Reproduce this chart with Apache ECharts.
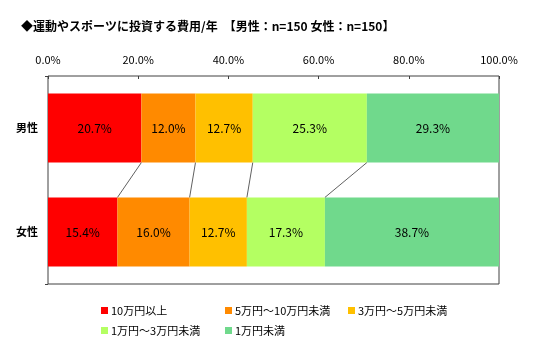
<!DOCTYPE html>
<html>
<head>
<meta charset="utf-8">
<script src="https://cdn.jsdelivr.net/npm/echarts@6/dist/echarts.min.js"></script>
<style>
  html, body { margin: 0; padding: 0; background: #fff; }
  #chart { width: 544px; height: 352px; }
</style>
</head>
<body>
<div id="chart"></div>
<script>
const categories = ['男性', '女性']
const seriesNames = ['10万円以上', '5万円～10万円未満', '3万円～5万円未満', '1万円～3万円未満', '1万円未満']
const male = [20.7, 12.0, 12.7, 25.3, 29.3]
const female = [15.4, 16.0, 12.7, 17.3, 38.7]
const xTicks = ['0.0%', '20.0%', '40.0%', '60.0%', '80.0%', '100.0%']
const colors = ['#ff0000', '#ff8a00', '#ffc000', '#b4ff62', '#70d98c']

const font = '"Noto Sans CJK JP", "Liberation Sans", sans-serif'
const gapRatio = 0.335

// cumulative boundaries between segments (for connector lines)
const cum = (arr) => {
  let s = 0
  return arr.slice(0, -1).map((v) => +(s += v).toFixed(1))
}
const maleCum = cum(male)
const femaleCum = cum(female)
const connectors = maleCum.map((m, i) => [m, femaleCum[i]])

const barSeries = seriesNames.map((name, i) => ({
  name,
  type: 'bar',
  stack: 'total',
  barCategoryGap: (gapRatio * 100) + '%',
  itemStyle: { color: colors[i] },
  label: {
    show: true,
    position: 'inside',
    color: '#000',
    fontSize: 12,
    fontFamily: font,
    formatter: (p) => p.value.toFixed(1) + '%',
  },
  data: [male[i], female[i]],
}))

const connectorSeries = {
  type: 'custom',
  silent: true,
  z: 5,
  renderItem: (params, api) => {
    const band = api.size([0, 1])[1]
    const half = band * (1 - gapRatio) / 2
    const p1 = api.coord([api.value(0), 0])
    const p2 = api.coord([api.value(1), 1])
    return {
      type: 'line',
      shape: { x1: p1[0], y1: p1[1] + half, x2: p2[0], y2: p2[1] - half },
      style: { stroke: '#606060', lineWidth: 1 },
    }
  },
  data: connectors,
}

// legend laid out as fixed columns
const legendPos = [[96, 300], [220, 300], [343, 300], [96, 320], [220, 320]]
const legends = seriesNames.map((name, i) => ({
  data: [name],
  left: legendPos[i][0],
  top: legendPos[i][1],
  icon: 'rect',
  itemWidth: 7,
  itemHeight: 7,
  itemGap: 3,
  selectedMode: false,
  textStyle: { fontSize: 11, color: '#000', fontFamily: font, padding: [0, 0, 0, -2] },
}))

const chart = echarts.init(document.getElementById('chart'))
chart.setOption({
  animation: false,
  title: {
    text: '◆運動やスポーツに投資する費用/年　【男性：n=150 女性：n=150】',
    left: 16,
    top: 15,
    textStyle: { fontSize: 12, fontWeight: 'bold', color: '#000', fontFamily: font },
  },
  legend: legends,
  grid: {
    left: 48,
    right: 45,
    top: 76,
    bottom: 68,
    show: true,
    borderColor: '#404040',
    borderWidth: 1,
  },
  xAxis: {
    type: 'value',
    position: 'top',
    min: 0,
    max: 100,
    interval: 20,
    axisLine: { show: false },
    axisTick: { show: true, inside: true, length: 3, lineStyle: { color: '#404040' } },
    splitLine: { show: false },
    axisLabel: {
      margin: 11,
      fontSize: 11,
      color: '#000',
      fontFamily: font,
      formatter: (v) => xTicks[Math.round(v / 20)],
    },
  },
  yAxis: {
    type: 'category',
    inverse: true,
    data: categories,
    axisLine: { show: false },
    axisTick: {
      show: true,
      length: 3,
      interval: (i) => i === 1,
      lineStyle: { color: '#404040' },
    },
    axisLabel: { margin: 10, fontSize: 11, fontWeight: 'bold', color: '#000', fontFamily: font },
  },
  series: [...barSeries, connectorSeries],
})
</script>
</body>
</html>
